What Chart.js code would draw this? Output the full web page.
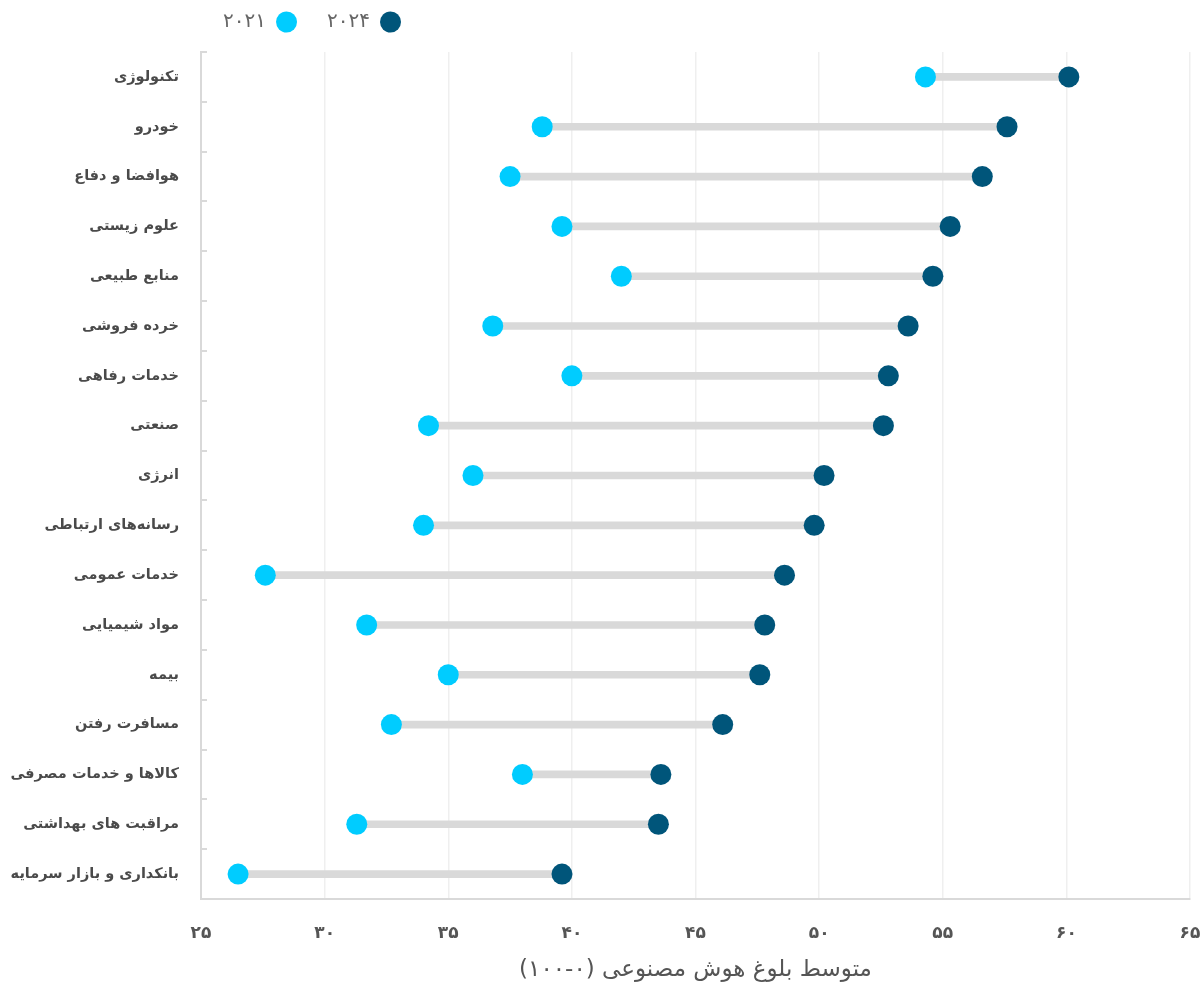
<!DOCTYPE html>
<html lang="fa" dir="rtl">
<head>
<meta charset="utf-8">
<title>بلوغ هوش مصنوعی بر اساس صنعت</title>
<script src="https://cdn.jsdelivr.net/npm/chart.js@4.4.1/dist/chart.umd.min.js"></script>
<style>
  html, body { margin: 0; padding: 0; background: #ffffff; }
  #wrap { position: relative; width: 1203px; height: 985px; }
</style>
</head>
<body>
<div id="wrap"><canvas id="chart" width="1203" height="985"></canvas></div>
<script>
// Industries, top to bottom
const industries = [
  'تکنولوژی',
  'خودرو',
  'هوافضا و دفاع',
  'علوم زیستی',
  'منابع طبیعی',
  'خرده فروشی',
  'خدمات رفاهی',
  'صنعتی',
  'انرژی',
  'رسانه‌های ارتباطی',
  'خدمات عمومی',
  'مواد شیمیایی',
  'بیمه',
  'مسافرت رفتن',
  'کالاها و خدمات مصرفی',
  'مراقبت های بهداشتی',
  'بانکداری و بازار سرمایه'
];

// Average AI maturity score (0-100)
const score2021 = [54.3, 38.8, 37.5, 39.6, 42.0, 36.8, 40.0, 34.2, 36.0, 34.0, 27.6, 31.7, 35.0, 32.7, 38.0, 31.3, 26.5];
const score2024 = [60.1, 57.6, 56.6, 55.3, 54.6, 53.6, 52.8, 52.6, 50.2, 49.8, 48.6, 47.8, 47.6, 46.1, 43.6, 43.5, 39.6];

const seriesNames = ['۲۰۲۴', '۲۰۲۱'];
const axisTitle = 'متوسط بلوغ هوش مصنوعی (۰-۱۰۰)';
const xMin = 25, xMax = 65, xStep = 5;

const faDigits = '۰۱۲۳۴۵۶۷۸۹';
const toFa = v => String(v).replace(/\d/g, d => faDigits[d]);

const FONT = "'DejaVu Sans', 'Noto Sans', sans-serif";

// Keeps the legend strip at a fixed height and moves it to the upper-left
const legendPlacement = {
  id: 'legendPlacement',
  beforeLayout(chart) {
    const lg = chart.legend;
    if (lg && !lg._fixedFit) {
      const fit = lg.fit;
      lg.fit = function () { fit.call(this); this.height = 52; };
      lg._fixedFit = true;
    }
  },
  afterLayout(chart) {
    const lg = chart.legend;
    if (!lg || !lg.lineWidths) return;
    const dx = 401 - (lg.left + lg.lineWidths[0]);
    lg.left += dx; lg.right += dx;
    lg.top -= 18; lg.bottom -= 18;
  }
};

const ranges = score2021.map((v, i) => [v, score2024[i]]);

new Chart(document.getElementById('chart'), {
  type: 'bar',
  data: {
    labels: industries,
    datasets: [
      {
        type: 'line',
        label: seriesNames[0],
        data: score2024,
        showLine: false,
        pointRadius: 10.5,
        pointHoverRadius: 10.5,
        pointBorderWidth: 0,
        pointBackgroundColor: '#00557A',
        backgroundColor: '#00557A',
        borderColor: '#00557A',
        order: 1
      },
      {
        type: 'line',
        label: seriesNames[1],
        data: score2021,
        showLine: false,
        pointRadius: 10.5,
        pointHoverRadius: 10.5,
        pointBorderWidth: 0,
        pointBackgroundColor: '#00CCFF',
        backgroundColor: '#00CCFF',
        borderColor: '#00CCFF',
        order: 2
      },
      {
        label: 'range',
        data: ranges,
        backgroundColor: '#D9D9D9',
        barThickness: 7,
        borderWidth: 0,
        borderSkipped: false,
        order: 3
      }
    ]
  },
  options: {
    indexAxis: 'y',
    responsive: false,
    animation: false,
    layout: { padding: 0 },
    plugins: {
      tooltip: { enabled: false },
      legend: {
        position: 'top',
        align: 'end',
        rtl: true,
        textDirection: 'rtl',
        labels: {
          filter: item => item.datasetIndex < 2,
          usePointStyle: true,
          pointStyle: 'circle',
          pointStyleWidth: 21,
          boxHeight: 15,
          padding: 30,
          color: '#666666',
          font: { family: FONT, size: 20 }
        }
      }
    },
    scales: {
      x: {
        type: 'linear',
        position: 'bottom',
        min: xMin,
        max: xMax,
        afterFit: s => { s.height = 86; s.paddingLeft = 0; s.paddingRight = 13; },
        ticks: {
          stepSize: xStep,
          padding: 24,
          color: '#555555',
          font: { family: FONT, size: 17, weight: 'bold' },
          callback: v => toFa(v)
        },
        grid: {
          color: '#EFEFEF',
          lineWidth: 1.5,
          drawTicks: false
        },
        border: { display: true, color: '#D9D9D9', width: 2 },
        title: {
          display: true,
          text: axisTitle,
          color: '#555555',
          font: { family: FONT, size: 23 },
          padding: { top: 2, bottom: 1 }
        }
      },
      y: {
        type: 'category',
        offset: true,
        afterFit: s => { s.width = 201; },
        ticks: {
          padding: 28,
          color: '#4A4A4A',
          font: { family: FONT, size: 14.5, weight: 'bold' }
        },
        grid: {
          offset: true,
          drawOnChartArea: false,
          drawTicks: true,
          tickLength: -6,
          color: '#D9D9D9',
          lineWidth: 2
        },
        border: { display: true, color: '#D9D9D9', width: 2 }
      }
    }
  },
  plugins: [legendPlacement]
});
</script>
</body>
</html>
